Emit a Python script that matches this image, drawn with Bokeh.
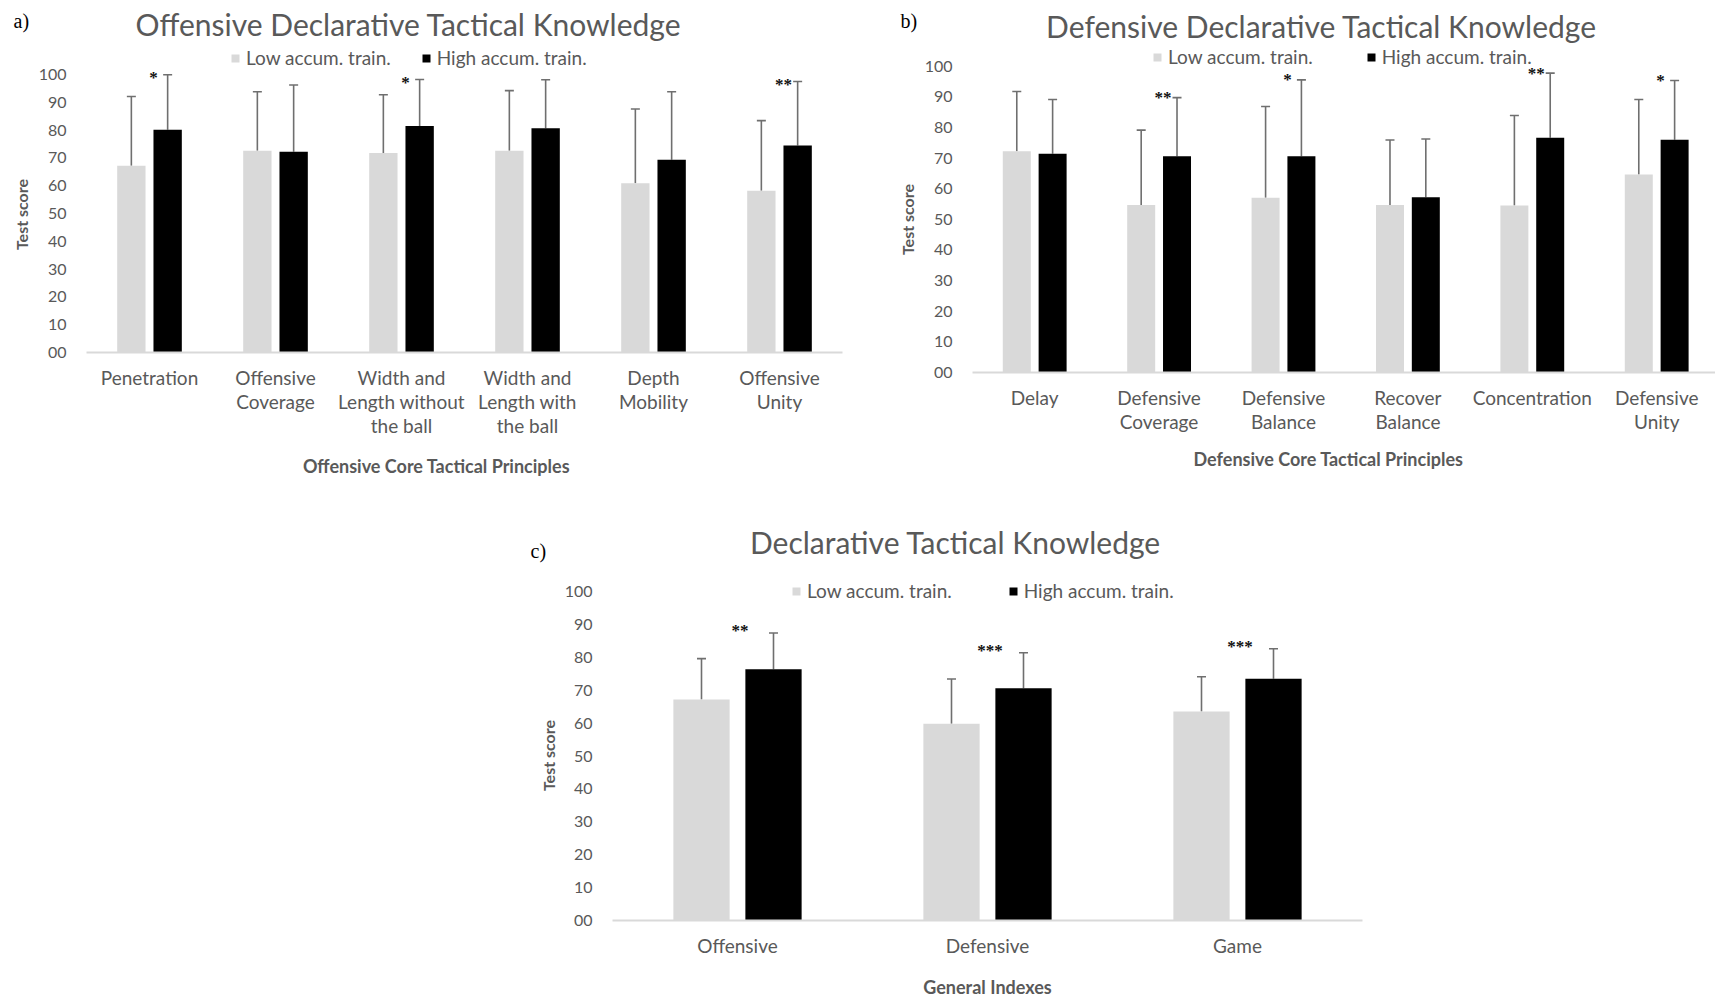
from bokeh.plotting import figure
from bokeh.models import (Range1d, FixedTicker, Legend, LegendItem, Label, LabelSet,
                          Whisker, TeeHead, ColumnDataSource, Spacer, GridBox)
from bokeh.layouts import row
from bokeh.embed import file_html
from bokeh.resources import INLINE
import numpy as np

SERIES = ["Low accum. train.", "High accum. train."]

# a) offensive principles
off_categories = ["Penetration", "Offensive\nCoverage", "Width and\nLength without\nthe ball",
                  "Width and\nLength with\nthe ball", "Depth\nMobility", "Offensive\nUnity"]
off_low = [67.2, 72.6, 71.8, 72.6, 60.9, 58.2]
off_low_sd = [24.9, 21.2, 20.9, 21.6, 26.7, 25.2]
off_high = [80.1, 72.2, 81.5, 80.7, 69.3, 74.5]
off_high_sd = [19.8, 24.0, 16.7, 17.4, 24.5, 23.0]
off_sig = ["*", "", "*", "", "", "**"]

# b) defensive principles
def_categories = ["Delay", "Defensive\nCoverage", "Defensive\nBalance", "Recover\nBalance",
                  "Concentration", "Defensive\nUnity"]
def_low = [72.2, 54.7, 57.0, 54.7, 54.5, 64.6]
def_low_sd = [19.5, 24.4, 29.8, 21.2, 29.4, 24.5]
def_high = [71.4, 70.6, 70.6, 57.2, 76.6, 76.0]
def_high_sd = [17.7, 19.1, 24.9, 19.0, 21.1, 19.3]
def_sig = ["", "**", "*", "", "**", "*"]

# c) general indexes
gen_categories = ["Offensive", "Defensive", "Game"]
gen_low = [67.2, 59.8, 63.5]
gen_low_sd = [12.4, 13.6, 10.6]
gen_high = [76.4, 70.6, 73.5]
gen_high_sd = [11.0, 10.8, 9.1]
gen_sig = ["**", "***", "***"]

y_ticks = list(range(0, 101, 10))

FONT = "Lato"
GREY_TEXT = "#595959"
LIGHT = "#d9d9d9"
DARK = "#000000"
ERR = "#6f6f6f"
BAR_W = 0.225
DODGE = 0.144
PAGE_W, PAGE_H = 1715, 997


def panel(cats, low, low_sd, high, high_sd, sig, *, width, height, origin, frame_left,
          frame_right, frame_top, axis_top, frame_bottom, cat_px, legend_xy, legend_gap,
          sig_dx, sig_dy):
    ox, oy = origin
    n = len(cats)
    x_end = -0.5 + (frame_right - frame_left) / cat_px
    unit_px = (frame_bottom - axis_top) / 100.0
    y_max = 100 + (axis_top - frame_top) / unit_px

    p = figure(width=width, height=height, x_range=Range1d(-0.5, x_end),
               y_range=Range1d(0, y_max), output_backend="svg", toolbar_location=None,
               frame_align=False,
               min_border_left=frame_left - ox, min_border_right=ox + width - frame_right,
               min_border_top=frame_top - oy, min_border_bottom=oy + height - frame_bottom)
    p.outline_line_color = None
    p.grid.visible = False
    p.background_fill_color = "white"
    p.border_fill_color = "white"

    idx = np.arange(n)
    src = ColumnDataSource(dict(
        x_low=idx - DODGE, x_high=idx + DODGE,
        low=low, high=high,
        low_top=np.array(low) + np.array(low_sd),
        high_top=np.array(high) + np.array(high_sd),
        sig=sig,
        sig_x=idx + sig_dx,
        sig_y=np.array(high) + np.array(high_sd) + sig_dy,
    ))

    r_low = p.vbar(x="x_low", top="low", bottom=0, width=BAR_W, source=src,
                   fill_color=LIGHT, line_color=None)
    r_high = p.vbar(x="x_high", top="high", bottom=0, width=BAR_W, source=src,
                    fill_color=DARK, line_color=None)

    for xk, lo, hi in (("x_low", "low", "low_top"), ("x_high", "high", "high_top")):
        p.add_layout(Whisker(source=src, base=xk, lower=lo, upper=hi, dimension="height",
                             line_color=ERR, line_width=1.6, lower_head=None,
                             upper_head=TeeHead(size=9, line_color=ERR, line_width=1.6)))

    p.add_layout(LabelSet(source=src, x="sig_x", y="sig_y", text="sig", text_align="center",
                          text_baseline="middle", text_font="Liberation Serif",
                          text_font_size="17px", text_color="#111111", text_font_style="bold"))

    # category axis along the baseline
    p.xaxis.ticker = FixedTicker(ticks=list(range(n)))
    p.xaxis.major_label_overrides = {i: c for i, c in enumerate(cats)}
    p.xaxis.axis_line_color = LIGHT
    p.xaxis.axis_line_width = 1.8
    p.xaxis.major_tick_line_color = None
    p.xaxis.minor_tick_line_color = None
    p.xaxis.major_label_text_font = FONT
    p.xaxis.major_label_text_font_size = "19px"
    p.xaxis.major_label_text_color = GREY_TEXT
    p.xaxis.major_label_text_line_height = 1.05
    p.xaxis.major_label_standoff = 7

    # score axis
    p.yaxis.ticker = FixedTicker(ticks=y_ticks)
    p.yaxis.major_label_overrides = {0: "00"}
    p.yaxis.axis_line_color = None
    p.yaxis.major_tick_line_color = None
    p.yaxis.minor_tick_line_color = None
    p.yaxis.major_label_text_font = FONT
    p.yaxis.major_label_text_font_size = "16px"
    p.yaxis.major_label_text_color = GREY_TEXT
    p.yaxis.major_label_standoff = 14

    lx, ly = legend_xy
    legend = Legend(items=[LegendItem(label=SERIES[0], renderers=[r_low]),
                           LegendItem(label=SERIES[1], renderers=[r_high])],
                    orientation="horizontal",
                    location=(lx - frame_left, frame_bottom - ly),
                    glyph_width=10, glyph_height=10, label_height=10, label_width=10,
                    label_standoff=6, spacing=legend_gap, padding=0, margin=0,
                    border_line_color=None, background_fill_alpha=0,
                    label_text_font=FONT, label_text_font_size="19px",
                    label_text_color=GREY_TEXT)
    p.add_layout(legend)
    return p


fa = panel(off_categories, off_low, off_low_sd, off_high, off_high_sd, off_sig,
           width=890, height=480, origin=(0, 0), frame_left=86, frame_right=842,
           frame_top=40, axis_top=74, frame_bottom=352, cat_px=126,
           legend_xy=(230, 69), legend_gap=30, sig_dx=DODGE - BAR_W / 2, sig_dy=-1.0)

fb = panel(def_categories, def_low, def_low_sd, def_high, def_high_sd, def_sig,
           width=825, height=480, origin=(890, 0), frame_left=972, frame_right=1715,
           frame_top=40, axis_top=65.6, frame_bottom=372, cat_px=124.4,
           legend_xy=(1152, 68), legend_gap=53, sig_dx=DODGE - BAR_W / 2, sig_dy=0.0)

fc = panel(gen_categories, gen_low, gen_low_sd, gen_high, gen_high_sd, gen_sig,
           width=900, height=517, origin=(520, 480), frame_left=612, frame_right=1362,
           frame_top=565, axis_top=591, frame_bottom=920, cat_px=250,
           legend_xy=(791, 602), legend_gap=56, sig_dx=0.01, sig_dy=0.6)

# page-wide text layer: panel tags, chart titles and axis titles
overlay = figure(width=PAGE_W, height=PAGE_H, x_range=Range1d(0, PAGE_W),
                 y_range=Range1d(PAGE_H, 0), output_backend="svg", toolbar_location=None,
                 x_axis_location=None, y_axis_location=None, min_border=0, frame_align=False)
overlay.outline_line_color = None
overlay.grid.visible = False
overlay.background_fill_alpha = 0
overlay.border_fill_alpha = 0

for txt, x, y in (("a)", 13, 20), ("b)", 900, 20), ("c)", 530, 550)):
    overlay.add_layout(Label(x=x, y=y, text=txt, text_align="left", text_baseline="middle",
                             text_font="Liberation Serif", text_font_size="20px",
                             text_color="black"))

for txt, x, y in (("Offensive Declarative Tactical Knowledge", 408, 23),
                  ("Defensive Declarative Tactical Knowledge", 1321, 25),
                  ("Declarative Tactical Knowledge", 955, 541)):
    overlay.add_layout(Label(x=x, y=y, text=txt, text_align="center", text_baseline="middle",
                             text_font=FONT, text_font_size="30px", text_color=GREY_TEXT))

for txt, x, y in (("Offensive Core Tactical Principles", 436, 465),
                  ("Defensive Core Tactical Principles", 1328, 458),
                  ("General Indexes", 987, 986)):
    overlay.add_layout(Label(x=x, y=y, text=txt, text_align="center", text_baseline="middle",
                             text_font=FONT, text_font_size="18px", text_font_style="bold",
                             text_color=GREY_TEXT))

for x, y in ((21, 214), (907, 219), (548, 755)):
    overlay.add_layout(Label(x=x, y=y, text="Test score", angle=90, angle_units="deg",
                             text_align="center", text_baseline="middle",
                             text_font=FONT, text_font_size="16px", text_font_style="bold",
                             text_color=GREY_TEXT))

bottom = row(Spacer(width=520, height=517), fc)
page = GridBox(children=[(fa, 0, 0), (fb, 0, 1), (bottom, 1, 0, 1, 2), (overlay, 0, 0, 2, 2)])

open("out.html", "w").write(file_html(page, INLINE))
